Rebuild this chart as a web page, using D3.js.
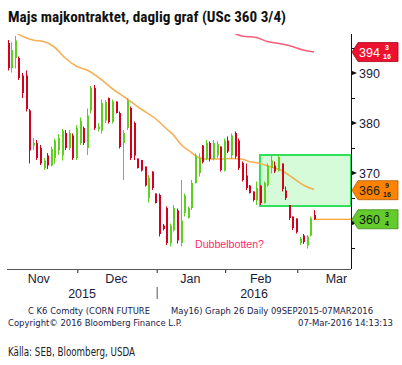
<!DOCTYPE html>
<html><head><meta charset="utf-8">
<script src="https://cdn.jsdelivr.net/npm/d3@7"></script>
<style>body{margin:0;background:#fff}svg{display:block}</style>
</head><body>
<script>
// ---- data ----
const dates = ["2015-11-02","2015-11-03","2015-11-04","2015-11-05","2015-11-06","2015-11-09","2015-11-10","2015-11-11","2015-11-12","2015-11-13",
"2015-11-16","2015-11-17","2015-11-18","2015-11-19","2015-11-20","2015-11-23","2015-11-24","2015-11-25","2015-11-27","2015-11-30",
"2015-12-01","2015-12-02","2015-12-03","2015-12-04","2015-12-07","2015-12-08","2015-12-09","2015-12-10","2015-12-11","2015-12-14",
"2015-12-15","2015-12-16","2015-12-17","2015-12-18","2015-12-21","2015-12-22","2015-12-23","2015-12-24","2015-12-28","2015-12-29",
"2015-12-30","2015-12-31","2016-01-04","2016-01-05","2016-01-06","2016-01-07","2016-01-08","2016-01-11","2016-01-12","2016-01-13",
"2016-01-14","2016-01-15","2016-01-19","2016-01-20","2016-01-21","2016-01-22","2016-01-25","2016-01-26","2016-01-27","2016-01-28",
"2016-01-29","2016-02-01","2016-02-02","2016-02-03","2016-02-04","2016-02-05","2016-02-08","2016-02-09","2016-02-10","2016-02-11",
"2016-02-12","2016-02-16","2016-02-17","2016-02-18","2016-02-19","2016-02-22","2016-02-23","2016-02-24","2016-02-25","2016-02-26",
"2016-02-29","2016-03-01","2016-03-02","2016-03-03","2016-03-04","2016-03-07"];
const open  = [396.0,391.0,393.0,393.0,389.5,389.5,382.5,375.5,376.0,375.0, 371.0,373.5,371.5,373.0,374.5,373.5,378.0,375.0,377.5,373.0,
376.0,379.0,375.0,382.5,387.0,378.8,378.5,380.5,385.0,380.2, 384.3,382.0,376.0,379.0,383.0,380.0,372.9,372.6,371.3,365.0,
370.3,365.9,365.6,359.5,363.0,356.0,358.5,362.5,356.0,362.0, 361.0,363.0,368.0,370.0,375.5,372.8,376.0,372.8,373.5,375.3,
370.5,376.5,373.5,378.0,376.5,372.0,369.5,367.5,366.3,364.5, 367.5,364.0,367.5,371.0,371.5,370.5,371.9,366.5,363.6,361.3,
360.9,356.0,357.5,355.5,357.5,361.6];
const high  = [396.6,396.1,397.4,393.3,390.0,390.5,382.8,377.0,376.6,375.6, 373.0,374.0,375.3,376.9,377.8,378.8,378.6,378.6,377.9,379.6,
381.1,379.3,382.9,387.4,387.6,380.0,384.7,384.6,385.1,384.7, 384.3,382.3,378.6,384.9,383.3,380.3,372.9,372.6,371.3,369.6,
370.3,365.9,365.9,359.8,363.3,359.9,363.6,362.9,368.6,365.9, 363.3,368.6,373.9,373.9,375.6,376.6,376.3,376.6,376.4,375.3,
376.9,377.3,377.9,378.3,376.9,372.3,371.9,367.6,366.3,368.3, 367.6,368.3,371.9,373.6,372.3,373.6,371.9,367.3,363.6,361.3,
360.9,357.2,357.8,357.6,361.3,362.6];
const low   = [390.5,390.1,390.9,388.6,385.0,382.3,371.9,374.6,372.6,371.6, 370.6,370.8,371.3,371.9,373.6,372.5,374.6,374.6,372.6,372.6,
375.6,375.6,373.6,381.9,378.6,378.3,377.9,380.0,379.9,379.9, 381.9,374.9,368.6,378.6,372.6,372.6,370.9,370.3,367.3,364.1,
366.6,363.9,357.3,358.5,355.6,355.3,358.3,355.9,355.3,361.3, 360.9,362.6,367.9,369.3,371.9,372.6,372.3,372.5,373.0,370.3,
370.3,374.0,372.9,372.9,370.6,368.3,366.6,365.9,364.3,363.6, 363.6,363.9,367.3,369.9,370.0,370.3,366.3,364.6,360.6,358.6,
357.9,355.6,355.8,354.9,357.3,360.6];
const close = [391.0,394.6,396.5,389.0,386.0,382.8,374.5,376.0,373.0,371.9, 372.5,371.5,374.8,376.5,377.0,378.5,375.0,378.0,373.0,379.0,
380.5,376.0,381.5,387.0,379.0,379.3,384.0,384.2,380.2,384.3, 382.0,375.2,378.0,384.5,373.0,373.5,371.0,370.5,367.5,369.0,
367.0,364.0,357.8,358.8,356.0,359.5,363.0,356.5,360.5,365.5, 363.0,368.0,373.5,373.0,372.2,376.0,372.8,376.0,375.8,370.6,
376.5,374.3,377.5,373.3,371.0,368.6,367.0,366.0,364.6,367.0, 364.0,368.0,371.5,372.5,370.3,373.2,366.8,365.0,361.0,359.0,
358.2,356.9,356.2,357.3,361.0,360.75];

// moving averages, read at sample dates
const maOrangeDates = ["2015-11-02","2015-11-04","2015-11-06","2015-11-11","2015-11-16","2015-11-19","2015-11-24","2015-11-30","2015-12-03","2015-12-09",
"2015-12-14","2015-12-18","2015-12-24","2015-12-31","2016-01-06","2016-01-08","2016-01-12","2016-01-15","2016-01-20","2016-01-22",
"2016-01-28","2016-02-02","2016-02-05","2016-02-09","2016-02-12","2016-02-18","2016-02-23","2016-02-26","2016-03-02","2016-03-07"];
const maOrangeValues = [399.3,398.2,397.4,396.6,396.3,395.2,393.0,391.4,390.6,388.7, 386.9,384.9,382.8,380.9,378.9,377.6,375.8,374.1,373.1,372.8,
372.8,372.9,372.8,372.3,371.9,371.2,370.5,369.1,367.6,366.7];
const maRedDates = ["2016-01-29","2016-02-03","2016-02-05","2016-02-11","2016-02-17","2016-02-23","2016-02-26","2016-03-02","2016-03-07"];
const maRedValues = [398.6,397.9,397.4,397.1,396.3,395.8,395.3,394.6,394.19];

const boxStartDate = "2016-02-12";
const boxTop = 373.6, boxBottom = 363.4;
const lastPrice = 360.75;

const yTicksMajor = [360,370,380,390];
const yTicksMinor = [355,365,375,385,395];
const monthNames = ["Nov","Dec","Jan","Feb","Mar"];
const yearLabels = ["2015","2016"];
const tagValues = [394.1875, 366.5625, 360.75];
const tagMain = ["394","366","360"];
const tagNum = ["3","9","3"];
const tagDen = ["16","16","4"];

const titleText = "Majs majkontraktet, daglig graf (USc 360 3/4)";
const noteText = "Dubbelbotten?";
const foot1a = "C K6 Comdty (CORN FUTURE";
const foot1b = "May16) Graph 26  Daily 09SEP2015-07MAR2016";
const foot2a = "Copyright\u00A9 2016 Bloomberg Finance L.P.";
const foot2b = "07-Mar-2016 14:13:13";
const sourceText = "K\u00E4lla: SEB, Bloomberg, USDA";

// ---- drawing ----
const W = 402, H = 365;
const svg = d3.select("body").append("svg").attr("width", W).attr("height", H);

const plotL = 7, plotR = 351, plotT = 34, plotB = 269;
const idxOf = d => dates.indexOf(d);
const x = d3.scaleLinear().domain([0, 95.25]).range([7.5, plotR]);
const y = d3.scaleLinear().domain([350, 400]).range([273, 23]);

svg.append("defs").append("clipPath").attr("id","clip")
  .append("rect").attr("x", plotL).attr("y", plotT).attr("width", plotR - plotL).attr("height", plotB - plotT);

// title
svg.append("text").attr("x", 8).attr("y", 22)
  .attr("font-family", "'Liberation Sans Narrow','Roboto Condensed','DejaVu Sans Condensed',sans-serif")
  .attr("font-weight", "bold").attr("font-size", 15).attr("fill", "#111")
  .attr("textLength", 278).attr("lengthAdjust", "spacingAndGlyphs")
  .text(titleText);

const plot = svg.append("g").attr("clip-path", "url(#clip)");

// green box
const bx = x(idxOf(boxStartDate));
plot.append("rect").attr("x", bx).attr("y", y(boxTop))
  .attr("width", plotR - bx).attr("height", y(boxBottom) - y(boxTop))
  .attr("fill", "#d5fbd8").attr("stroke", "#2fe05a").attr("stroke-width", 2);

// moving averages
const line = d3.line().x(d => x(d[0])).y(d => y(d[1])).curve(d3.curveMonotoneX);
plot.append("path").datum(maOrangeDates.map((d,i)=>[idxOf(d), maOrangeValues[i]]))
  .attr("d", line).attr("fill","none").attr("stroke","#f5a742").attr("stroke-width",1.6).attr("opacity",0.9);
plot.append("path").datum(maRedDates.map((d,i)=>[idxOf(d), maRedValues[i]]))
  .attr("d", line).attr("fill","none").attr("stroke","#f0506a").attr("stroke-width",1.6).attr("opacity",0.9);

// last price line
const lastIdx = dates.length - 1;
plot.append("line").attr("x1", x(lastIdx)).attr("x2", plotR)
  .attr("y1", y(lastPrice)).attr("y2", y(lastPrice))
  .attr("stroke", "#ff8a00").attr("stroke-width", 1.2);

// candles
const up = "#5fcf1e", down = "#d0021f";
const cg = plot.append("g");
dates.forEach((d, i) => {
  const col = close[i] >= open[i] ? up : down;
  const cx = Math.round(x(i));
  cg.append("line").attr("x1", cx + 0.5).attr("x2", cx + 0.5).attr("y1", y(high[i])).attr("y2", y(low[i]))
    .attr("stroke", col).attr("stroke-width", 1);
  const top = y(Math.max(open[i], close[i])), bot = y(Math.min(open[i], close[i]));
  cg.append("rect").attr("x", cx).attr("width", 2)
    .attr("y", top).attr("height", Math.max(1, bot - top)).attr("fill", col);
});

// annotation
svg.append("text").attr("x", 195).attr("y", 248)
  .attr("font-family", "'Liberation Sans','DejaVu Sans',sans-serif").attr("font-size", 11)
  .attr("fill", "#ff2a6d").attr("textLength", 69).attr("lengthAdjust", "spacingAndGlyphs")
  .text(noteText);

// axes lines
svg.append("line").attr("x1", plotL).attr("x2", plotR).attr("y1", plotB + 0.5).attr("y2", plotB + 0.5)
  .attr("stroke", "#555").attr("stroke-width", 1);
svg.append("line").attr("x1", plotR + 0.5).attr("x2", plotR + 0.5).attr("y1", plotT).attr("y2", plotB)
  .attr("stroke", "#111").attr("stroke-width", 1);

// right axis ticks
const axisFont = "'Liberation Sans','Arial',sans-serif";
yTicksMinor.forEach(v => {
  svg.append("line").attr("x1", plotR).attr("x2", plotR + 4).attr("y1", Math.round(y(v))+0.5).attr("y2", Math.round(y(v))+0.5)
    .attr("stroke", "#111");
});
yTicksMajor.forEach(v => {
  const yy = y(v);
  svg.append("path").attr("d", `M${plotR},${yy-2.5}L${plotR+6},${yy}L${plotR},${yy+2.5}Z`).attr("fill", "#111");
  // labels hidden behind a price tag are not drawn
  const covered = tagValues.some(t => Math.abs(y(t) - yy) < 12);
  if (!covered) svg.append("text").attr("x", 359).attr("y", yy + 4.5).attr("font-family", axisFont).attr("font-size", 12.5)
    .attr("fill", "#1a1a3a").text(v);
});

// price tags
const tagFill = ["#ec1230", "#ff8200", "#63cc2c"];
const tagStroke = ["#a8001a", "#b85a00", "#3a8a15"];
const tagText = ["#ffffff", "#222222", "#111111"];
tagValues.forEach((v, i) => {
  const yc = y(v), h = 9.5;
  const g = svg.append("g");
  g.append("path").attr("d", `M${plotR+1},${yc}L${plotR+7},${yc-h}L398,${yc-h}L398,${yc+h}L${plotR+7},${yc+h}Z`)
    .attr("fill", tagFill[i]).attr("stroke", tagStroke[i]).attr("stroke-width", 0.8);
  g.append("text").attr("x", 359).attr("y", yc + 4.5).attr("font-family", axisFont).attr("font-size", 12.5)
    .attr("fill", tagText[i]).text(tagMain[i]);
  g.append("text").attr("x", 387).attr("y", yc - 1.8).attr("text-anchor", "middle").attr("font-family", axisFont)
    .attr("font-size", 7).attr("font-weight", "bold").attr("fill", tagText[i]).text(tagNum[i]);
  g.append("text").attr("x", 387).attr("y", yc + 7.2).attr("text-anchor", "middle").attr("font-family", axisFont)
    .attr("font-size", 7).attr("font-weight", "bold").attr("fill", tagText[i]).text(tagDen[i]);
});

// x axis: month ticks and labels
const monthStarts = [];
dates.forEach((d, i) => { if (i === 0 || d.slice(0,7) !== dates[i-1].slice(0,7)) monthStarts.push(i); });
const bounds = monthStarts.map(i => i - 0.5);
bounds.push(bounds[bounds.length-1] + 22); // end of March (trading days)
monthStarts.forEach((s, k) => {
  if (k > 0) svg.append("line").attr("x1", x(bounds[k])).attr("x2", x(bounds[k]))
    .attr("y1", plotB + 1).attr("y2", plotB + 4).attr("stroke", "#222");
  const mid = (bounds[k] + bounds[k+1]) / 2;
  svg.append("text").attr("x", x(mid) - (k === 0 ? 3 : 1)).attr("y", 283).attr("text-anchor", "middle")
    .attr("font-family", axisFont).attr("font-size", 12.5).attr("fill", "#1a1a3a").text(monthNames[k]);
});
const yearBound = x(bounds[2]);
svg.append("line").attr("x1", yearBound).attr("x2", yearBound).attr("y1", 287).attr("y2", 299).attr("stroke", "#555");
svg.append("text").attr("x", (plotL + yearBound) / 2).attr("y", 298).attr("text-anchor", "middle")
  .attr("font-family", axisFont).attr("font-size", 12.5).attr("fill", "#1a1a3a").text(yearLabels[0]);
svg.append("text").attr("x", (yearBound + plotR) / 2).attr("y", 298).attr("text-anchor", "middle")
  .attr("font-family", axisFont).attr("font-size", 12.5).attr("fill", "#1a1a3a").text(yearLabels[1]);

// footer
const footFont = "'DejaVu Sans Condensed','DejaVu Sans',sans-serif";
function ft(t, xx, yy, len, anchor) {
  svg.append("text").attr("x", xx).attr("y", yy).attr("font-family", footFont).attr("font-size", 8.5)
    .attr("fill", "#1a1a4a").attr("textLength", len).attr("lengthAdjust", "spacingAndGlyphs")
    .attr("text-anchor", anchor || "start").text(t);
}
ft(foot1a, 28, 314, 122);
ft(foot1b, 171, 314, 202);
ft(foot2a, 8, 326, 174);
ft(foot2b, 298, 326, 95);

svg.append("text").attr("x", 8).attr("y", 356)
  .attr("font-family", "'Liberation Sans Narrow','DejaVu Sans Condensed',sans-serif")
  .attr("font-size", 12.5).attr("fill", "#222").attr("textLength", 127).attr("lengthAdjust", "spacingAndGlyphs")
  .text(sourceText);
</script>
</body></html>
